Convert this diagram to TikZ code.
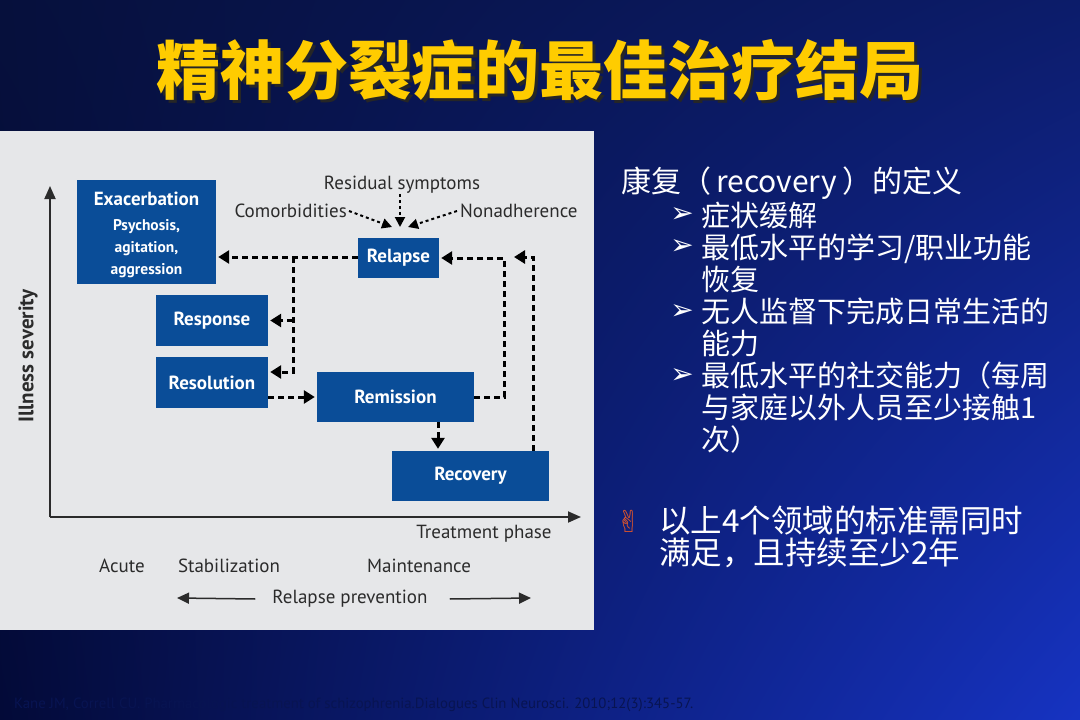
\documentclass[tikz,border=0pt]{standalone}
\usepackage{fontspec}
\setmainfont{PT Sans}
\newfontfamily\cjk{Noto Sans CJK SC}
\newfontfamily\sym{DejaVu Sans}
\usepackage{xcolor}
\definecolor{SlideTopLeft}{HTML}{06103C}
\definecolor{SlideTopRight}{HTML}{0C1C6A}
\definecolor{SlideBottomLeft}{HTML}{030A38}
\definecolor{SlideBottomRight}{HTML}{1633C2}
\definecolor{PanelGray}{HTML}{E6E7E9}
\definecolor{BoxBlue}{HTML}{0A4D98}
\definecolor{TitleYellow}{HTML}{FFCC00}
\definecolor{InkGray}{HTML}{2B2B2B}
\definecolor{CiteBlue}{HTML}{081452}
\definecolor{HandRed}{HTML}{E0552A}
\usepackage{tikz}
\usetikzlibrary{arrows.meta, positioning, shadings}

\begin{document}
\begin{tikzpicture}[x=1pt, y=-1pt,
	box/.style={fill=BoxBlue, text=white, inner sep=0pt, align=center, font=\bfseries\fontsize{19}{22}\selectfont},
	lbl/.style={text=InkGray, inner sep=0pt, font=\fontsize{19}{22}\selectfont},
	dasharrow/.style={line width=3pt, dash pattern=on 6pt off 4pt, -{Triangle[length=11pt, width=13pt]}, shorten >=2pt},
	smallarrow/.style={line width=2pt, dash pattern=on 3pt off 3pt, -{Triangle[length=10pt, width=10pt]}},
	axis/.style={InkGray, line width=1.8pt, -{Triangle[length=13pt, width=11pt]}},
	thinarrow/.style={InkGray, line width=1.5pt, -{Triangle[length=12pt, width=11pt]}},
	rtext/.style={text=white, inner sep=0pt, align=left, font=\cjk\fontsize{29}{32}\selectfont},
	bullet/.style={text=white, inner sep=0pt, font=\sym\fontsize{28}{30}\selectfont}]
	% slide background
	\shade[upper left=SlideTopLeft, upper right=SlideTopRight, lower left=SlideBottomLeft, lower right=SlideBottomRight] (0,0) rectangle (1080,720);
	\useasboundingbox (0,0) rectangle (1080,720);

	% title (with its drop shadow)
	\node[text=black!85, font=\cjk\bfseries\fontsize{64}{70}\selectfont] (shadow) at (543,73) {精神分裂症的最佳治疗结局};
	\node[text=TitleYellow, font=\cjk\bfseries\fontsize{64}{70}\selectfont] (title) at (540,70) {精神分裂症的最佳治疗结局};

	% figure panel
	\fill[PanelGray] (0,131) rectangle (594,630);

	% boxes
	\node[box, minimum width=139pt, minimum height=104pt] (exac) at (146.5,232) {\rule{0pt}{20pt}Exacerbation\\[3pt]{\fontsize{15.5}{22}\selectfont Psychosis,}\\{\fontsize{15.5}{22}\selectfont agitation,}\\{\fontsize{15.5}{22}\selectfont aggression}};
	\node[box, minimum width=112pt, minimum height=51pt] (resp) at (212,320.5) {Response};
	\node[box, minimum width=112pt, minimum height=51pt] (resol) at (212,382.5) {Resolution};
	\node[box, minimum width=81pt, minimum height=40pt] (relapse) at (398.5,258) {Relapse};
	\node[box, minimum width=157pt, minimum height=50pt] (remis) at (395.5,397) {Remission};
	\node[box, minimum width=157pt, minimum height=50pt] (recov) at (470.5,476) {Recovery};

	% influences on relapse
	\node[lbl] (resid) at (402,185) {Residual symptoms};
	\node[lbl, anchor=east] (comor) at (347,211) {Comorbidities};
	\node[lbl, anchor=west] (nonad) at (460,211) {Nonadherence};
	\coordinate (c1) at (392,227);
	\coordinate (c2) at (400,227);
	\coordinate (c3) at (408,227);
	\draw[smallarrow] ([xshift=2pt]comor.east) -- (c1);
	\draw[smallarrow] (resid.south -| c2) -- (c2);
	\draw[smallarrow] ([xshift=-3pt]nonad.west) -- (c3);

	% dashed transitions
	\coordinate (br) at (293,257);
	\coordinate (bend) at (293,372);
	\coordinate (mr) at (438,0);
	\coordinate (rk) at (533,257);
	\coordinate (rtip) at (512,257);
	\draw[dasharrow] (relapse.west |- br) -- (br -| exac.east);
	\draw[dasharrow] (br) -- (bend) -- (bend -| resol.east);
	\draw[dasharrow] (br |- resp.east) -- (resp.east);
	\draw[dasharrow] (resol.east |- remis.west) -- (remis.west);
	\draw[dasharrow] (remis.east) -- ++(30,0) |- (relapse.east);
	\draw[dasharrow] (recov.north -| rk) -- (rk) -- (rtip);
	\draw[dasharrow] (remis.south -| mr) -- (recov.north -| mr);

	% axes
	\coordinate (origin) at (50,517);
	\coordinate (ytop) at (50,186);
	\coordinate (xend) at (581,517);
	\draw[axis] (origin) -- (ytop);
	\draw[axis] (origin) -- (xend);
	\node[lbl, rotate=90, font=\bfseries\fontsize{21}{24}\selectfont] (sev) at (28,356) {Illness severity};
	\node[lbl] (phase) at (484,534) {Treatment phase};

	% phases
	\node[lbl] (acute) at (122,566) {Acute};
	\node[lbl] (stab) at (229,566) {Stabilization};
	\node[lbl] (maint) at (419,566) {Maintenance};
	\node[lbl] (prev) at (350,599) {Relapse prevention};
	\coordinate (pl) at (177,598);
	\coordinate (pr) at (531,598);
	\draw[thinarrow] ([xshift=-17pt]prev.west) -- (pl);
	\draw[thinarrow] ([xshift=22pt]prev.east) -- (pr);

	% definition of recovery
	\node[rtext, anchor=west, font=\cjk\fontsize{30}{32}\selectfont] (defn) at (621,183) {康复（\,recovery\,）的定义};
	\node[bullet] (b1) at (682,215) {➢};
	\node[bullet] (b2) at (682,247) {➢};
	\node[bullet] (b3) at (682,312) {➢};
	\node[bullet] (b4) at (682,376) {➢};
	\node[rtext, anchor=west] (i1) at (701,215) {症状缓解};
	\node[rtext, anchor=west] (i2) at (701,263) {最低水平的学习/职业功能\\恢复};
	\node[rtext, anchor=west] (i3) at (701,327.5) {无人监督下完成日常生活的\\能力};
	\node[rtext, anchor=west] (i4) at (701,407) {最低水平的社交能力（每周\\与家庭以外人员至少接触1\\次）};
	\node[bullet, text=HandRed, font=\sym\fontsize{30}{32}\selectfont] (hand) at (629,521) {✌};
	\node[rtext, anchor=west, font=\cjk\fontsize{31.5}{32}\selectfont] (cond) at (659,537) {以上4个领域的标准需同时\\满足，且持续至少2年};

	% source
	\node[anchor=west, inner sep=0pt, text=CiteBlue, font=\fontsize{14.8}{16}\selectfont] (cite) at (14,705) {Kane JM, Correll CU. Pharmacologic treatment of schizophrenia.Dialogues Clin Neurosci. 2010;12(3):345-57.};
\end{tikzpicture}
\end{document}
